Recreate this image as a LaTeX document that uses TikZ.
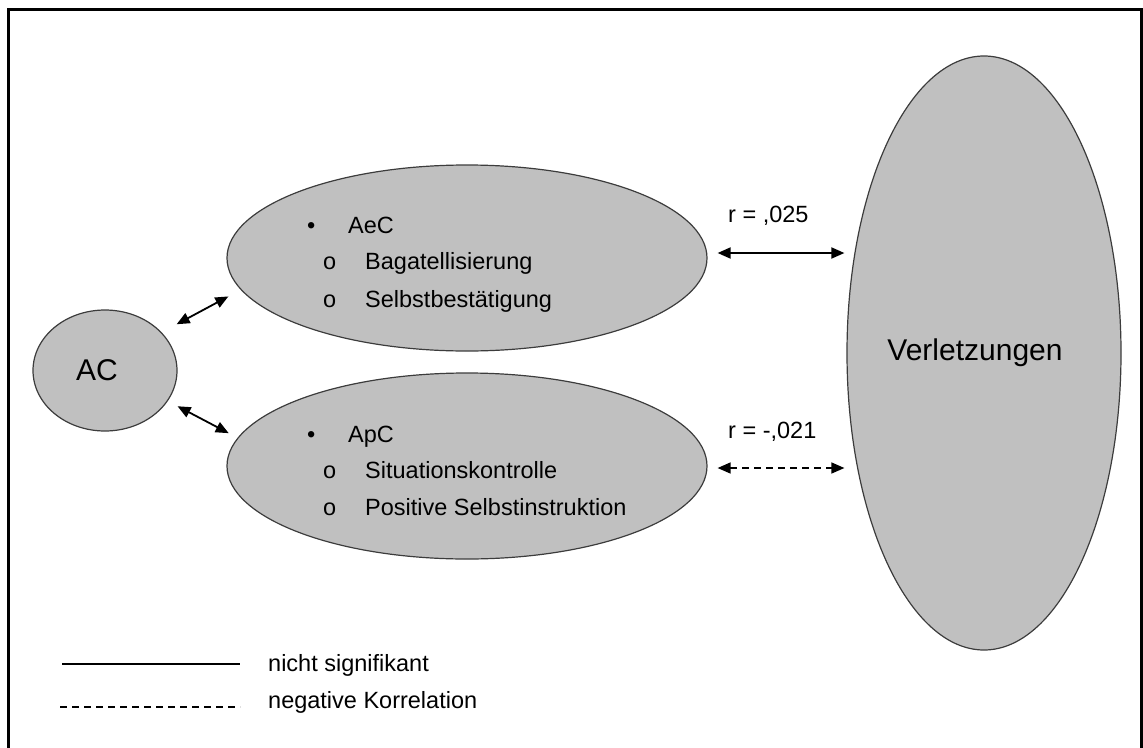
\documentclass[tikz,border=0pt]{standalone}
\usepackage{fontspec}
\setmainfont{Liberation Sans}
\usetikzlibrary{shapes.geometric,arrows.meta}
\definecolor{ellfill}{RGB}{192,192,192}
\definecolor{elldraw}{RGB}{60,60,60}
\tikzset{
  ell/.style={ellipse, draw=elldraw, line width=1.2pt, fill=ellfill, inner sep=0pt},
  big/.style={font=\fontsize{30}{36}\selectfont},
  txt/.style={font=\fontsize{23.5}{28}\selectfont, anchor=base west, inner sep=0pt},
  biarrow/.style={{Triangle[length=13pt,width=11pt]}-{Triangle[length=13pt,width=11pt]}, line width=1.8pt},
  dasharrow/.style={biarrow, line width=1.4pt, dash pattern=on 7pt off 5pt},
  legline/.style={line width=1.4pt},
  frame/.style={line width=2.5pt}
}
\begin{document}
\begin{tikzpicture}[x=1pt,y=-1pt]
\useasboundingbox (0,0) rectangle (1143,747);
\draw[frame] (8.5,760) -- (8.5,9.5) -- (1141.5,9.5) -- (1141.5,760);

% ellipses
\node[ell, big, minimum width=144pt, minimum height=121pt] (AC) at (105,370.5) {AC\hspace*{16pt}};
\node[ell, minimum width=480pt, minimum height=186pt] (AeC) at (467,258) {};
\node[ell, minimum width=480pt, minimum height=186pt] (ApC) at (467,466) {};
\node[ell, big, minimum width=274pt, minimum height=594pt] (Verl) at (984,353) {Verletzungen\hspace*{18pt}};

% texts in AeC
\node[txt] (b1) at (307,233) {•};
\node[txt] (t1) at (348,233) {AeC};
\node[txt] (o1) at (323,269) {o};
\node[txt] (t2) at (365,269) {Bagatellisierung};
\node[txt] (o2) at (323,307) {o};
\node[txt] (t3) at (365,307) {Selbstbestätigung};
% texts in ApC
\node[txt] (b2) at (307,442) {•};
\node[txt] (t4) at (348,442) {ApC};
\node[txt] (o3) at (323,478) {o};
\node[txt] (t5) at (365,478) {Situationskontrolle};
\node[txt] (o4) at (323,515) {o};
\node[txt] (t6) at (365,515) {Positive Selbstinstruktion};

% connectors AC
\draw[biarrow, shorten <=17pt, shorten >=14pt] (AC.34) -- (AeC.188.6);
\draw[biarrow, shorten <=11pt, shorten >=10pt] (AC.-26.9) -- (ApC.173.1);

% connectors to Verletzungen
\coordinate (s1) at ([xshift=10pt,yshift=5pt]AeC.east);
\coordinate (s2) at ([xshift=10pt,yshift=-2pt]ApC.east);
\draw[biarrow, shorten >=2pt] (s1) -- (s1 -| Verl.west);
\draw[dasharrow, shorten >=2pt] (s2) -- (s2 -| Verl.west);
\node[txt] (r1) at (728,222) {r = ,025};
\node[txt] (r2) at (728,438) {r = -,021};

% legend
\coordinate (l1a) at (62,664);
\coordinate (l1b) at (240,664);
\coordinate (l2a) at (60,707);
\coordinate (l2b) at (240,707);
\draw[legline] (l1a) -- (l1b);
\draw[legline, dash pattern=on 7pt off 5pt] (l2a) -- (l2b);
\node[txt] (leg1) at (268,671) {nicht signifikant};
\node[txt] (leg2) at (268,708) {negative Korrelation};
\end{tikzpicture}
\end{document}
